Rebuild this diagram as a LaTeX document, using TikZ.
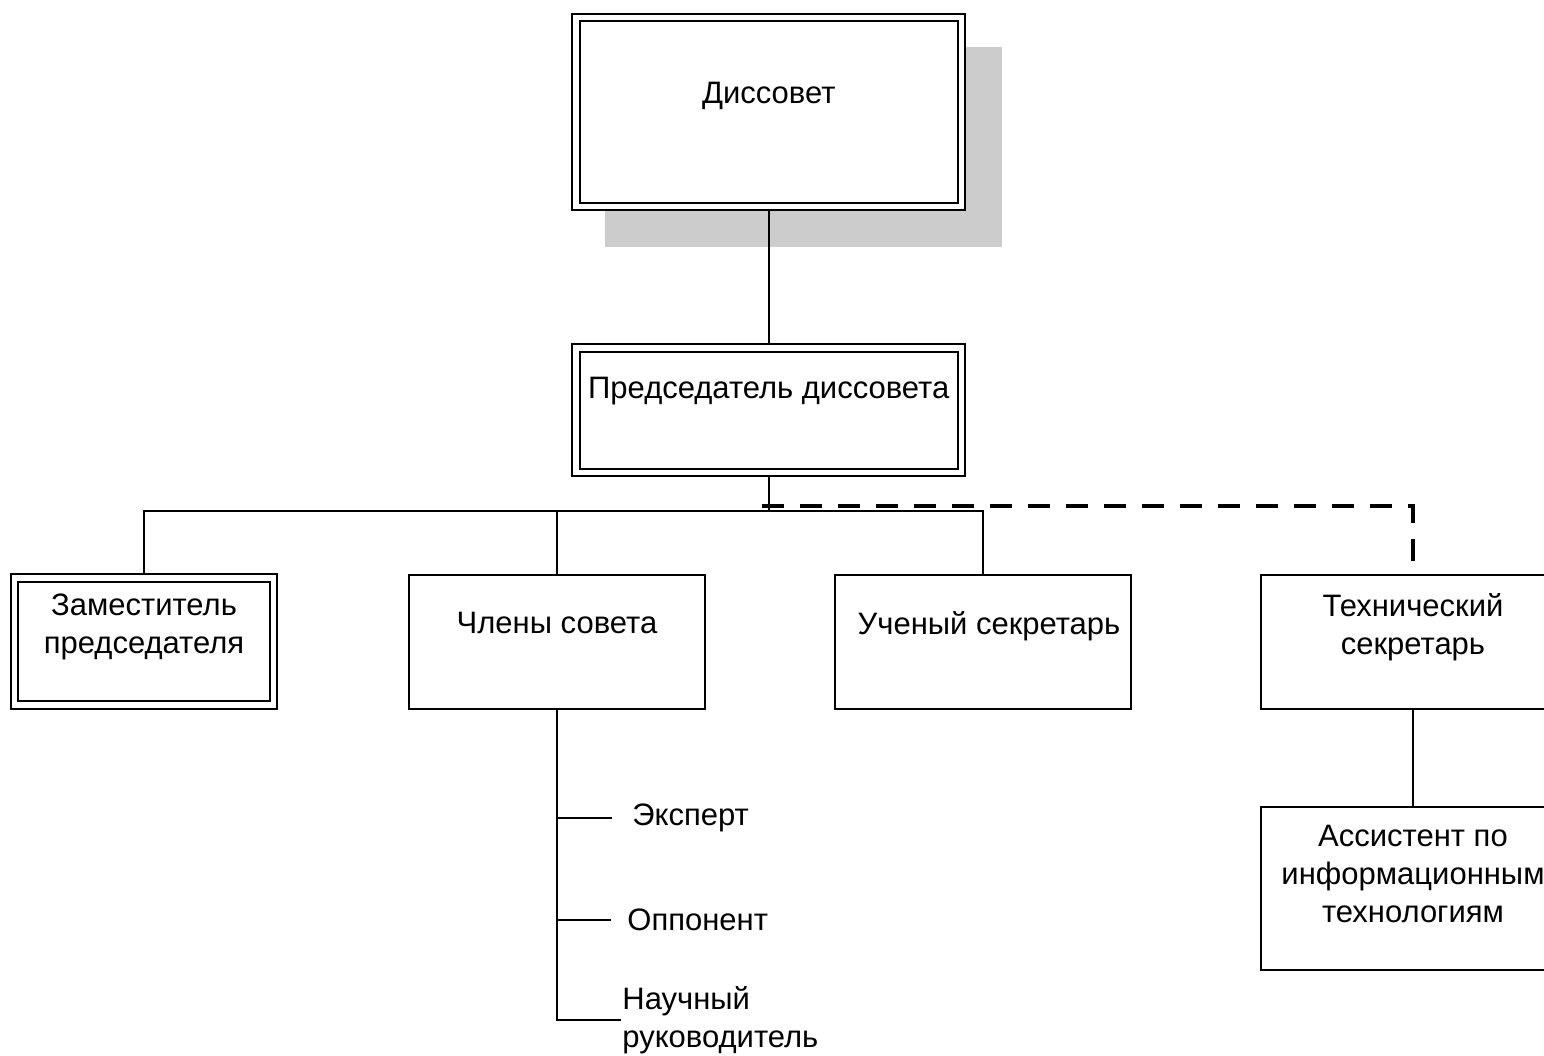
\documentclass[tikz,border=0pt]{standalone}
\usepackage{fontspec}
\setmainfont{Liberation Sans}
\usetikzlibrary{backgrounds}
\definecolor{shadowGray}{RGB}{204,204,204}

\begin{document}
\begin{tikzpicture}[x=0.5pt, y=-0.5pt,
    every node/.style={font=\fontsize{15.5}{19}\selectfont},
    box/.style={draw, line width=0.9pt, fill=white, outer sep=0pt, inner sep=0pt},
    dbox/.style={box, double, line width=1.1pt, double distance=2.6pt},
    caption/.style={anchor=north, inner sep=0pt, align=center, yshift=-#1},
    link/.style={line width=0.8pt},
    dashlink/.style={line width=2pt, dash pattern=on 11pt off 8pt}]
  \useasboundingbox (0,0) rectangle (1544,1056);
  \clip (0,0) rectangle (1544,1056);

  % boxes
  \node[dbox, minimum width=192.75pt, minimum height=94.5pt, label={[caption=32.25pt]north:Диссовет}] (sovet) at (768.75,112) {};
  \node[dbox, minimum width=192.75pt, minimum height=62.25pt, label={[caption=14.5pt]north:Председатель диссовета}] (pred) at (768.75,410.25) {};
  \node[dbox, minimum width=129.5pt, minimum height=63.5pt, label={[caption=7.5pt]north:Заместитель\\председателя}] (zam) at (144,641.5) {};
  \node[box, minimum width=148pt, minimum height=67pt, label={[caption=18.3pt]north:Члены совета}] (chleny) at (557,642) {};
  \node[box, minimum width=148pt, minimum height=67pt, label={[caption=18pt, xshift=3pt]north:Ученый секретарь}] (uchsekr) at (983,642) {};
  \node[box, minimum width=152pt, minimum height=67pt, label={[caption=9pt]north:Технический\\секретарь}] (tehsekr) at (1413,642) {};
  \node[box, minimum width=152pt, minimum height=81.5pt, label={[caption=9pt]north:Ассистент по\\информационным\\технологиям}] (assist) at (1413,888.5) {};

  % members
  \node[anchor=west, inner xsep=10pt, inner ysep=0pt] (ekspert) at (612,818) {Эксперт};
  \node[anchor=west, inner xsep=8pt, inner ysep=0pt] (opponent) at (611,920) {Оппонент};
  \node[anchor=west, inner xsep=0.5pt, inner ysep=0pt, align=left] (rukovod) at (621,1020) {Научный\\руководитель};

  \begin{scope}[on background layer]
    \fill[shadowGray] ([shift={(29,29)}]sovet.north west) rectangle ([shift={(40.5,40.5)}]sovet.south east);
    \coordinate (bus) at (768.75,511);
    \coordinate (dashstart) at (762,506);
    \draw[link] (sovet) -- (pred);
    \draw[link] (pred.south) -- (bus);
    \draw[link] (zam.north) |- (bus);
    \draw[link] (chleny.north) |- (bus);
    \draw[link] (uchsekr.north) |- (bus);
    \draw[dashlink] (dashstart) -| (tehsekr.north);
    \draw[link] (chleny.south) |- (rukovod.west);
    \draw[link] (chleny.south |- ekspert.west) -- (ekspert.west);
    \draw[link] (chleny.south |- opponent.west) -- (opponent.west);
    \draw[link] (tehsekr) -- (assist);
  \end{scope}
\end{tikzpicture}
\end{document}
